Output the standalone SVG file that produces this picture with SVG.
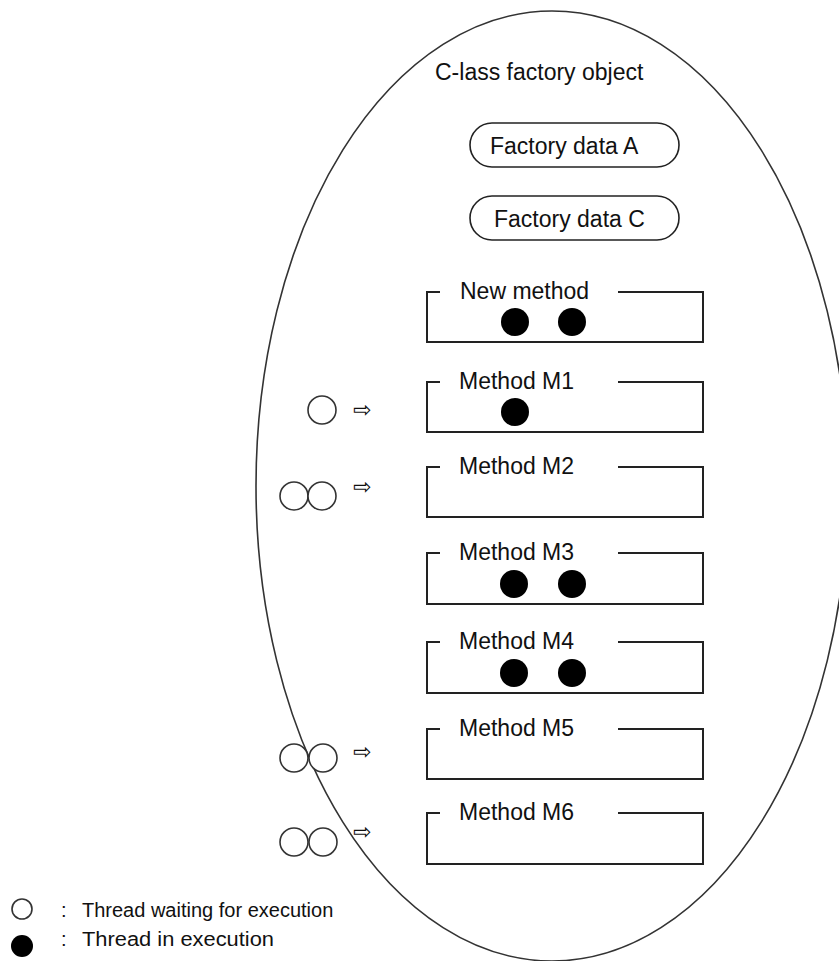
<svg xmlns="http://www.w3.org/2000/svg" width="839" height="961" viewBox="0 0 839 961">
<style>
text{font-family:"Liberation Sans",Arial,sans-serif;fill:#111}
.t{font-size:23px}
.lg{font-size:20px}
.arr{font-family:"DejaVu Sans",sans-serif;font-size:22px;fill:#111}
.box{fill:none;stroke:#222;stroke-width:2}
.cap{fill:#fff;stroke:#222;stroke-width:1.6}
.run{fill:#000}
.wait{fill:#fff;stroke:#333;stroke-width:1.6}
.outer{fill:none;stroke:#333;stroke-width:1.6}
</style>
<rect width="839" height="961" fill="#fff"/>
<g id="factory-object">
<ellipse class="outer" cx="552" cy="486" rx="296" ry="475"/>
<text class="t" x="435" y="80">C-lass factory object</text>
</g>
<g id="factory-data-a">
<rect class="cap" x="470" y="123" width="209" height="44" rx="22"/>
<text class="t" x="490" y="154">Factory data A</text>
</g>
<g id="factory-data-c">
<rect class="cap" x="470" y="196" width="209" height="44" rx="22"/>
<text class="t" x="494" y="227">Factory data C</text>
</g>
<g id="new-method">
<path class="box" d="M440,292H427V342H703V292H618"/>
<text class="t" x="460" y="299">New method</text>
<circle class="run" cx="515" cy="322" r="14"/>
<circle class="run" cx="572" cy="322" r="14"/>
</g>
<g id="method-m1">
<path class="box" d="M440,382H427V432H703V382H618"/>
<text class="t" x="459" y="389">Method M1</text>
<circle class="run" cx="515" cy="412" r="14"/>
<circle class="wait" cx="322" cy="410" r="14"/>
<text class="arr" x="353" y="417">⇨</text>
</g>
<g id="method-m2">
<path class="box" d="M440,467H427V517H703V467H618"/>
<text class="t" x="459" y="474">Method M2</text>
<circle class="wait" cx="294" cy="496" r="14"/>
<circle class="wait" cx="322" cy="496" r="14"/>
<text class="arr" x="353" y="494">⇨</text>
</g>
<g id="method-m3">
<path class="box" d="M440,553H427V604H703V553H618"/>
<text class="t" x="459" y="560">Method M3</text>
<circle class="run" cx="514" cy="584" r="14"/>
<circle class="run" cx="572" cy="584" r="14"/>
</g>
<g id="method-m4">
<path class="box" d="M440,642H427V693H703V642H618"/>
<text class="t" x="459" y="649">Method M4</text>
<circle class="run" cx="514" cy="673" r="14"/>
<circle class="run" cx="572" cy="673" r="14"/>
</g>
<g id="method-m5">
<path class="box" d="M440,729H427V779H703V729H618"/>
<text class="t" x="459" y="736">Method M5</text>
<circle class="wait" cx="294" cy="758" r="14"/>
<circle class="wait" cx="323" cy="758" r="14"/>
<text class="arr" x="353" y="759">⇨</text>
</g>
<g id="method-m6">
<path class="box" d="M440,813H427V864H703V813H618"/>
<text class="t" x="459" y="820">Method M6</text>
<circle class="wait" cx="294" cy="842" r="14"/>
<circle class="wait" cx="323" cy="842" r="14"/>
<text class="arr" x="353" y="839">⇨</text>
</g>
<g id="legend">
<circle class="wait" cx="22" cy="909" r="10"/>
<text class="lg" x="61" y="917">:</text>
<text class="lg" x="82" y="917">Thread waiting for execution</text>
<circle class="run" cx="22" cy="946" r="11"/>
<text class="lg" x="61" y="946">:</text>
<text class="lg" x="82" y="946" textLength="192" lengthAdjust="spacingAndGlyphs">Thread in execution</text>
</g>
</svg>
